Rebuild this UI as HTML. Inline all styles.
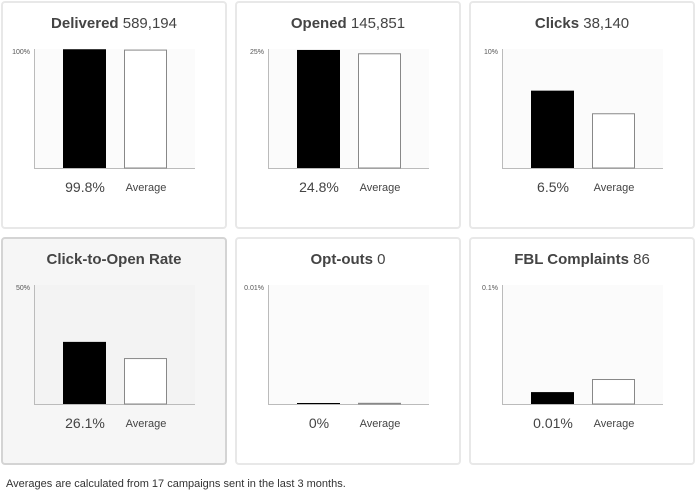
<!DOCTYPE html>
<html><head><meta charset="utf-8"><style>
body{margin:0;width:695px;height:498px;background:#fff;font-family:"Liberation Sans",sans-serif;position:relative;overflow:hidden}
.card{position:absolute;width:222px;height:224px;border:2px solid #e8e8e8;border-radius:4px;background:#fff;box-sizing:content-box}
.card.sel{background:#f6f6f6;border-color:#d4d4d4}
.title{position:absolute;top:12px;left:0;right:0;text-align:center;font-size:15px;color:#444}
.title b{font-weight:bold}
svg{position:absolute;left:0;top:0}
.foot{position:absolute;left:6px;top:478px;font-size:11px;color:#333}
</style></head><body>
<div id="root"></div>
<div class="foot">Averages are calculated from 17 campaigns sent in the last 3 months.</div>
<script>
const titles=["Delivered","Opened","Clicks","Click-to-Open Rate","Opt-outs","FBL Complaints"];
const counts=["589,194","145,851","38,140","","0","86"];
const maxTicks=["100%","25%","10%","50%","0.01%","0.1%"];
const maxVals=[100,25,10,50,0.01,0.1];
const values=[99.8,24.8,6.5,26.1,0,0.01];
const averages=[99.5,24.1,4.6,19.3,0.0001,0.021];
const valueLabels=["99.8%","24.8%","6.5%","26.1%","0%","0.01%"];
const root=document.getElementById('root');
const NS="http://www.w3.org/2000/svg";
function mk(t,a){const e=document.createElementNS(NS,t);for(const k in a)e.setAttribute(k,a[k]);return e;}
for(let i=0;i<6;i++){
  const col=i%3,row=Math.floor(i/3);
  const c=document.createElement('div');
  c.className='card'+(i===3?' sel':'');
  
  
  c.style.left=(1+col*234)+'px';c.style.top=(1+row*236)+'px';
  const t=document.createElement('div');t.className='title';
  
  
  t.innerHTML='<b>'+titles[i]+'</b>'+(counts[i]?' '+counts[i]:'');
  c.appendChild(t);
  const s=mk('svg',{width:222,height:224});
  const top=46,base=165,ax=31,right=192;
  const y=v=>base-(v/maxVals[i])*(base-top);
  const bg=mk('rect',{x:ax,y:top,width:right-ax,height:base-top,fill:i===3?'#f3f3f3':'#fbfbfb'});
  s.appendChild(bg);
  const yl=mk('line',{x1:ax+.5,y1:top,x2:ax+.5,y2:base,stroke:'#bbb'});
  
  
  s.appendChild(yl);
  const xl=mk('line',{x1:ax,y1:base+.5,x2:right,y2:base+.5,stroke:'#bbb'});
  
  
  s.appendChild(xl);
  const tk=mk('text',{x:ax-4,y:top+5,'text-anchor':'end','font-size':'7','fill':'#555'});
  tk.textContent=maxTicks[i];
  
  
  s.appendChild(tk);
  const yv=y(values[i]);
  const b=mk('rect',{x:60,y:yv,width:43,height:Math.max(base-yv,0),fill:'#000'});
  if(values[i]===0){b.setAttribute('y',base-1);b.setAttribute('height',1);}
  
  
  s.appendChild(b);
  const ya=Math.min(y(averages[i]),base-1);
  const a=mk('rect',{x:121.5,y:ya+.5,width:42,height:Math.max(base-ya-.5,0.5),fill:'#fff',stroke:'#888'});
  
  
  s.appendChild(a);
  const vl=mk('text',{x:82,y:base+24,'text-anchor':'middle','font-size':'14','fill':'#444'});
  vl.textContent=valueLabels[i];
  
  
  s.appendChild(vl);
  const al=mk('text',{x:143,y:base+23,'text-anchor':'middle','font-size':'11','fill':'#444'});
  al.textContent='Average';
  
  
  s.appendChild(al);
  c.appendChild(s);
  root.appendChild(c);
}
</script>
</body></html>
